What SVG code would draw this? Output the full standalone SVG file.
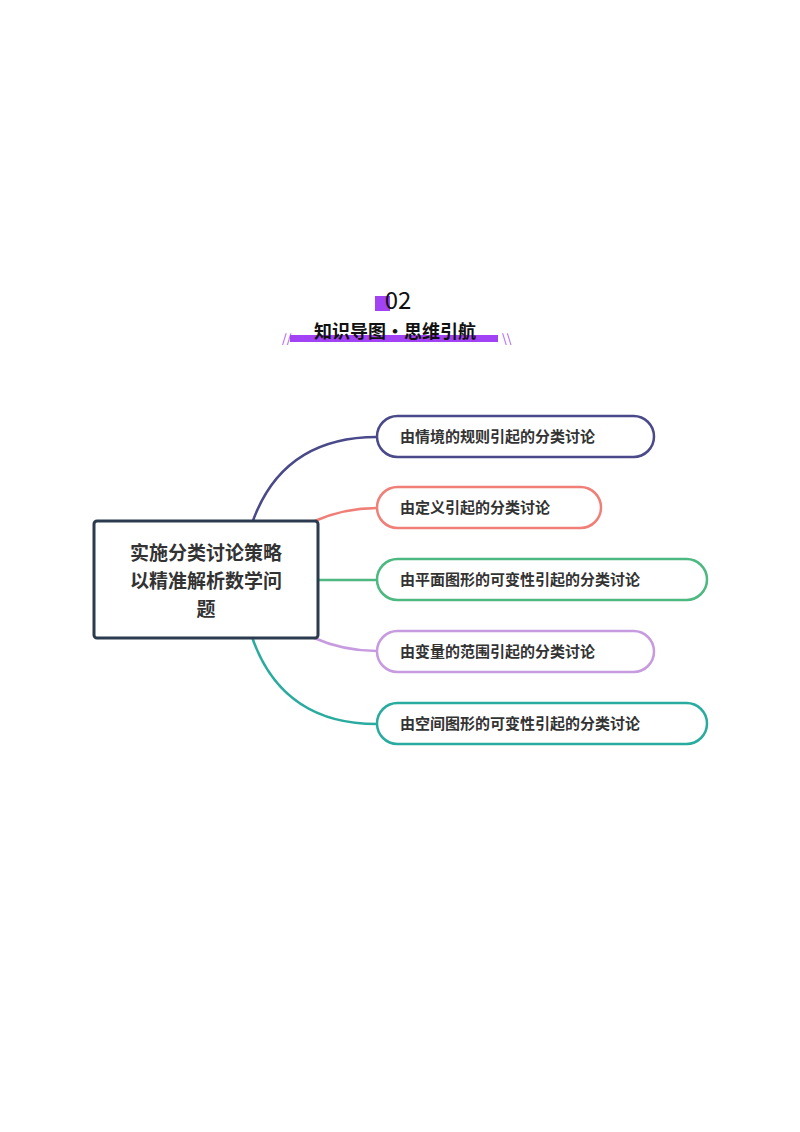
<svg xmlns="http://www.w3.org/2000/svg" width="800" height="1132" viewBox="0 0 800 1132">
<style>
text{font-family:"Noto Sans CJK SC","Liberation Sans",sans-serif;font-weight:bold;fill:#333}
.n text{font-size:15px}
.n rect{fill:#fff;stroke-width:2.5}
#conn path{fill:none;stroke-width:2.5}
</style>
<rect width="800" height="1132" fill="#fff"/>
<g id="header">
<rect x="375" y="296" width="15" height="15" fill="#a142f4"/>
<text x="398" y="309" font-size="24" text-anchor="middle" style="font-weight:normal;fill:#111">02</text>
<rect x="290" y="335" width="208" height="7" fill="#a142f4"/>
<text x="395" y="338" font-size="18" text-anchor="middle" style="fill:#111">知识导图·思维引航</text>
<text x="282" y="343" font-size="12" style="fill:#a142f4;font-weight:normal">//</text>
<text x="502" y="343" font-size="12" style="fill:#a142f4;font-weight:normal">\\</text>
</g>
<g id="conn">
<path d="M240 580 Q255 437 377 437" stroke="#4a4a8a"/>
<path d="M240 580 Q300 508 377 508" stroke="#f07f78"/>
<path d="M240 580 L377 580" stroke="#4db87f"/>
<path d="M240 580 Q300 651 377 651" stroke="#c79be0"/>
<path d="M240 580 Q255 724 377 724" stroke="#2aab9f"/>
</g>
<g id="center"><rect x="94" y="521" width="224" height="117" rx="3" fill="#fff" stroke="#2b3a4e" stroke-width="3"/>
<text x="206" y="560" font-size="19" text-anchor="middle">实施分类讨论策略</text>
<text x="206" y="588" font-size="19" text-anchor="middle">以精准解析数学问</text>
<text x="206" y="616" font-size="19" text-anchor="middle">题</text></g>
<g id="n1" class="n"><rect x="377" y="416" width="277" height="41" rx="20.5" stroke="#4a4a8a"/><text x="400" y="442">由情境的规则引起的分类讨论</text></g>
<g id="n2" class="n"><rect x="377" y="487" width="224" height="41" rx="20.5" stroke="#f07f78"/><text x="400" y="513">由定义引起的分类讨论</text></g>
<g id="n3" class="n"><rect x="377" y="559" width="330" height="41" rx="20.5" stroke="#4db87f"/><text x="400" y="585">由平面图形的可变性引起的分类讨论</text></g>
<g id="n4" class="n"><rect x="377" y="631" width="277" height="41" rx="20.5" stroke="#c79be0"/><text x="400" y="657">由变量的范围引起的分类讨论</text></g>
<g id="n5" class="n"><rect x="377" y="703" width="330" height="41" rx="20.5" stroke="#2aab9f"/><text x="400" y="729">由空间图形的可变性引起的分类讨论</text></g>
</svg>
